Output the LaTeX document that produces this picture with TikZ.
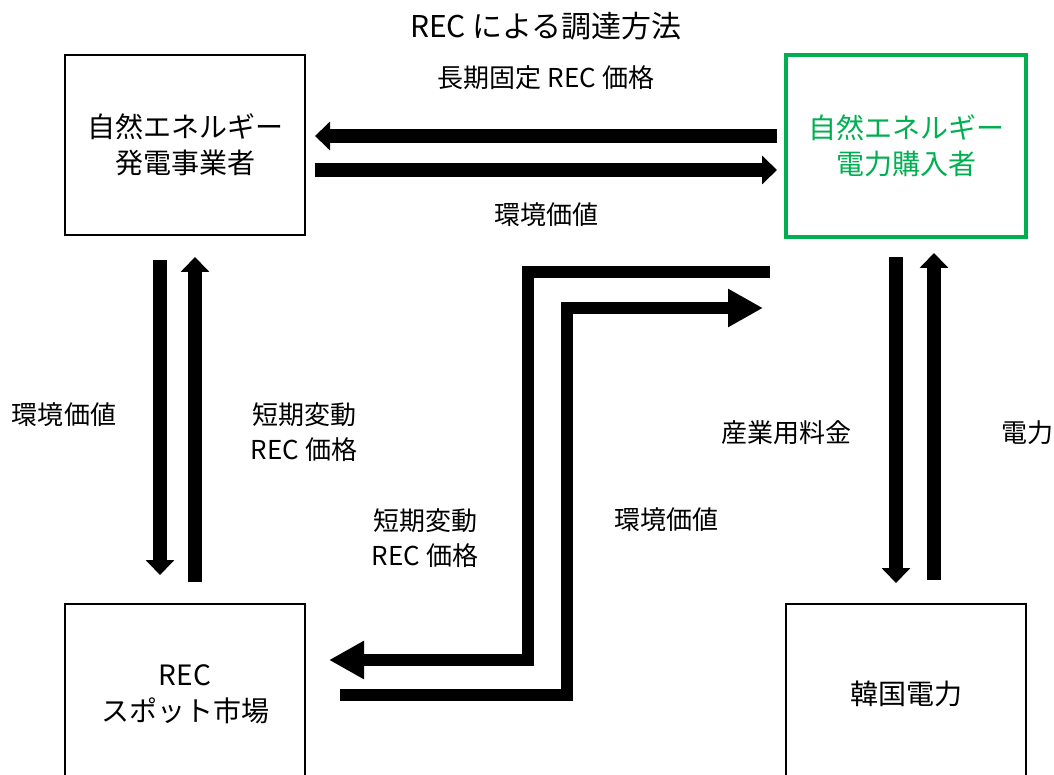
\documentclass[tikz,border=0pt]{standalone}
\usepackage{fontspec}
\setmainfont{Noto Sans CJK JP}
\usetikzlibrary{arrows.meta,calc}
\definecolor{kgreen}{HTML}{00B050}
\begin{document}
\begin{tikzpicture}[x=1pt,y=-1pt,
  box/.style={draw, line width=2pt, minimum width=240pt, minimum height=180pt, inner sep=0pt, outer sep=0pt, align=center, font=\fontsize{28}{36}\selectfont},
  lbl/.style={align=center, font=\fontsize{26}{35}\selectfont, inner sep=0pt},
  thinarr/.style={line width=14pt, -{Triangle[width=28pt,length=15pt]}},
  bigarr/.style={line width=12pt, line join=miter, -{Triangle[width=36pt,length=35pt]}}]
\useasboundingbox (0,0) rectangle (1054,775);
% boxes
\node[box] (gen) at (185,145) {自然エネルギー\\発電事業者};
\node[box, draw=kgreen, line width=4pt, text=kgreen, minimum height=182pt] (buyer) at (906,146) {自然エネルギー\\電力購入者};
\node[box] (spot) at (185,694) {REC\\スポット市場};
\node[box] (kepco) at (906,694) {韓国電力};
% top pair
\draw[thinarr] ($(buyer.west)+(-9,-10)$) -- ($(gen.east)+(10,-9)$);
\draw[thinarr] ($(gen.east)+(10,25)$) -- ($(buyer.west)+(-9,24)$);
% left pair
\draw[thinarr] ($(gen.south)+(-25,25)$) -- ($(spot.north)+(-25,-29)$);
\draw[thinarr] ($(spot.north)+(10,-22)$) -- ($(gen.south)+(10,22)$);
% right pair
\draw[thinarr] ($(buyer.south)+(-10,20)$) -- ($(kepco.north)+(-10,-21)$);
\draw[thinarr] ($(kepco.north)+(28,-24)$) -- ($(buyer.south)+(28,16)$);
% L-shaped arrows
\draw[bigarr] ($(buyer.west)+(-16,126)$) -| ($(spot.east)+(223,-34)$) -- ($(spot.east)+(24,-34)$);
\draw[bigarr] ($(spot.east)+(35,1)$) -| ($(buyer.west)+(-219,162)$) -- ($(buyer.west)+(-23,162)$);
% labels
\node[font=\fontsize{30}{36}\selectfont, inner sep=0pt] (title) at (546,26) {REC による調達方法};
\node[lbl] (l1) at (546,78) {長期固定 REC 価格};
\node[lbl] (l2) at (546,215) {環境価値};
\node[lbl] (l3) at (64,415) {環境価値};
\node[lbl] (l4) at (304,432) {短期変動\\REC 価格};
\node[lbl] (l5) at (425,538) {短期変動\\REC 価格};
\node[lbl] (l6) at (666,520) {環境価値};
\node[lbl] (l7) at (786,433) {産業用料金};
\node[lbl] (l8) at (1027,433) {電力};
\end{tikzpicture}
\end{document}
